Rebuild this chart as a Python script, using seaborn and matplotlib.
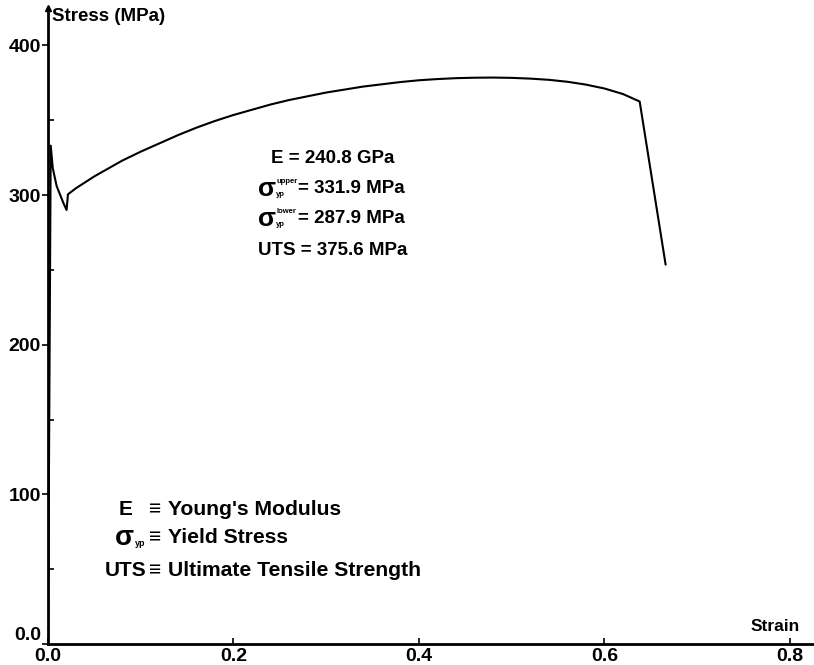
import numpy as np
import pandas as pd
import matplotlib
matplotlib.use("Agg")
import matplotlib.pyplot as plt
from matplotlib.ticker import FixedLocator, FuncFormatter
import seaborn as sns

# stress-strain curve
strain = [0.0, 0.0029, 0.0051, 0.0093, 0.0165, 0.0200, 0.0215,
          0.030, 0.040, 0.050, 0.060, 0.070, 0.080, 0.090, 0.100,
          0.120, 0.140, 0.160, 0.180, 0.200, 0.220, 0.240, 0.260,
          0.280, 0.300, 0.320, 0.340, 0.360, 0.380, 0.400, 0.420,
          0.440, 0.460, 0.480, 0.500, 0.520, 0.540, 0.560, 0.580,
          0.600, 0.620, 0.638, 0.666]
stress = [0.0, 333.0, 318.0, 306.0, 294.8, 290.0, 300.5,
          304.5, 308.5, 312.5, 316.0, 319.5, 323.0, 326.0, 329.0,
          334.5, 340.0, 345.0, 349.5, 353.5, 357.0, 360.5, 363.5,
          366.0, 368.5, 370.5, 372.5, 374.0, 375.5, 376.7, 377.5,
          378.1, 378.4, 378.5, 378.3, 377.8, 377.0, 375.7, 373.8,
          371.2, 367.5, 362.5, 253.5]

plain_results = ["E = 240.8 GPa", "UTS = 375.6 MPa"]
sigma_results = ["= 331.9 MPa", "= 287.9 MPa"]
sigma_tags = ["upper", "lower"]
symbols = ["E", "\u03c3", "UTS"]
meanings = ["Young's Modulus", "Yield Stress", "Ultimate Tensile Strength"]

df = pd.DataFrame({"Strain": strain, "Stress": stress})

sns.set_style("ticks")
plt.rcParams["font.family"] = ["Liberation Sans", "DejaVu Sans"]
plt.rcParams["font.weight"] = "bold"
for key in ["text.color", "axes.edgecolor", "xtick.color", "ytick.color",
            "axes.labelcolor"]:
    plt.rcParams[key] = "black"

fig = plt.figure(figsize=(8.14, 6.65), dpi=100)
ax = fig.add_axes([0.059, 0.0316, 0.941, 0.9564])

sns.lineplot(data=df, x="Strain", y="Stress", sort=False, estimator=None,
             color="black", linewidth=1.5, ax=ax)

ax.set_xlim(0, 0.826)
ax.set_ylim(0, 425)
ax.set_xlabel("")
ax.set_ylabel("")

for s in ["top", "right"]:
    ax.spines[s].set_visible(False)
for s in ["left", "bottom"]:
    ax.spines[s].set_linewidth(2)

# arrow at top of the y axis
ax.plot(0, 1, marker="^", markersize=4, color="black",
        transform=ax.get_xaxis_transform(), clip_on=False)

ax.xaxis.set_major_locator(FixedLocator([0.0, 0.2, 0.4, 0.6, 0.8]))
ax.yaxis.set_major_locator(FixedLocator([0, 100, 200, 300, 400]))
ax.yaxis.set_minor_locator(FixedLocator([50, 150, 250, 350]))
ax.xaxis.set_major_formatter(FuncFormatter(lambda v, p: f"{v:.1f}"))
ax.yaxis.set_major_formatter(FuncFormatter(lambda v, p: "0.0" if v == 0 else f"{v:.0f}"))

ax.tick_params(axis="x", direction="in", length=4, width=1.2, pad=3)
ax.tick_params(axis="y", which="major", direction="out", length=4, width=1.2, pad=1)
ax.tick_params(axis="y", which="minor", direction="in", length=4, width=1.2)
for lab in ax.get_xticklabels() + ax.get_yticklabels():
    lab.set_fontsize(14)
    lab.set_fontweight("bold")
ax.get_yticklabels()[0].set_va("bottom")

ax.text(0.004, 419, "Stress (MPa)", ha="left", va="center", fontsize=13.5)
ax.text(0.811, 12, "Strain", ha="right", va="center", fontsize=12.5)

# result annotations
for txt, y in zip(plain_results, [324.4, 262.9]):
    ax.text(0.3073, y, txt, ha="center", va="center", fontsize=13.5)

for txt, tag, y in zip(sigma_results, sigma_tags, [304.3, 284.3]):
    ax.text(0.2460, y, "\u03c3", ha="right", va="center", fontsize=19)
    ax.annotate(tag, (0.2462, y), xytext=(0, 5), textcoords="offset points",
                ha="left", va="center", fontsize=5.5)
    ax.annotate("yp", (0.2462, y), xytext=(0, -4), textcoords="offset points",
                ha="left", va="center", fontsize=5.5)
    ax.text(0.2695, y, txt, ha="left", va="center", fontsize=13.5)

# symbol legend
for sym, mean, y in zip(symbols, meanings, [89.6, 70.9, 48.8]):
    if sym == "\u03c3":
        ax.text(0.0927, y, sym, ha="right", va="center", fontsize=20)
        ax.annotate("yp", (0.0933, y), xytext=(0, -4), textcoords="offset points",
                    ha="left", va="center", fontsize=6.5)
    else:
        ax.text(0.0835, y, sym, ha="center", va="center", fontsize=15)
    ax.text(0.1150, y, "\u2261", ha="center", va="center", fontsize=15)
    ax.text(0.1294, y, mean, ha="left", va="center", fontsize=15.2)

fig.savefig("out.png", dpi=100)
